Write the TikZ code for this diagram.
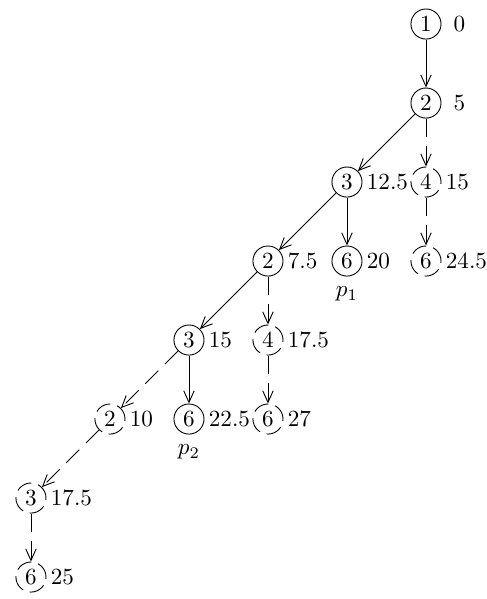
\documentclass[tikz,border=0pt]{standalone}
\usetikzlibrary{arrows.meta}
\tikzset{
  st/.style={circle,draw,minimum size=13pt,inner sep=0pt},
  open/.style={st,dash pattern=on 7pt off 3pt},
  val/.style={label={[label distance=0.7pt,inner sep=1pt]right:#1}},
  tr/.style={-{Straight Barb[length=5pt,width=4.5pt]}},
  gap/.style={tr,dash pattern=on 8pt off 4pt}
}
\begin{document}
\begin{tikzpicture}[x=1.2cm,y=-1.2cm]
\useasboundingbox (-0.392,-0.304) rectangle (5.772,7.278);
% search tree
\node[st,label={[label distance=4pt,inner sep=1pt]right:0}] (a1) at (5,0) {1};
\node[st,label={[label distance=4pt,inner sep=1pt]right:5}] (a2) at (5,1) {2};
\node[st,val=12.5] (a3) at (4,2) {3};
\node[open,val=15] (a4) at (5,2) {4};
\node[st,val=7.5] (b2) at (3,3) {2};
\node[st,val=20,label={[label distance=1pt]below:$p_1$}] (b6) at (4,3) {6};
\node[open,val=24.5] (a6) at (5,3) {6};
\node[st,val=15] (b3) at (2,4) {3};
\node[open,val=17.5] (b4) at (3,4) {4};
\node[open,val=10] (c2) at (1,5) {2};
\node[st,val=22.5,label={[label distance=1pt]below:$p_2$}] (c6) at (2,5) {6};
\node[open,val=27] (d6) at (3,5) {6};
\node[open,val=17.5] (c3) at (0,6) {3};
\node[open,val=25] (e6) at (0,7) {6};

\draw[tr] (a1) -- (a2);
\draw[tr] (a2) -- (a3);
\draw[gap] (a2) -- (a4);
\draw[tr] (a3) -- (b6);
\draw[tr] (a3) -- (b2);
\draw[gap] (a4) -- (a6);
\draw[tr] (b2) -- (b3);
\draw[gap] (b2) -- (b4);
\draw[tr] (b3) -- (c6);
\draw[gap] (b3) -- (c2);
\draw[gap] (b4) -- (d6);
\draw[gap] (c2) -- (c3);
\draw[gap] (c3) -- (e6);
\end{tikzpicture}
\end{document}
